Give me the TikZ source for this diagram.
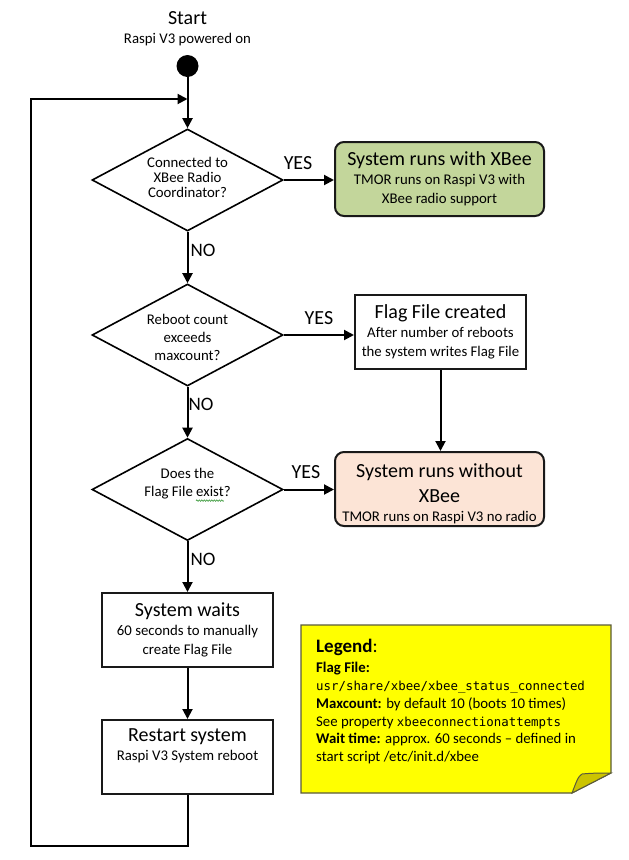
\documentclass[tikz,border=0pt]{standalone}
\usepackage{fontspec}
\setmainfont{Carlito}
\setmonofont{DejaVu Sans Mono}
\usetikzlibrary{arrows.meta,shapes.geometric,decorations.pathmorphing}
\definecolor{boxgreen}{HTML}{C3D69B}
\definecolor{boxpeach}{HTML}{FCE4D6}
\definecolor{notey}{HTML}{FFFF00}
\definecolor{notefold}{HTML}{CCC400}
\definecolor{noteedge}{HTML}{5A5A3C}
\definecolor{wavygreen}{HTML}{3C9A3C}
\newcommand\ttlfont{\fontsize{20}{20}\selectfont}
\newcommand\monofnt{\fontsize{12.4}{14}\selectfont\ttfamily}
\begin{document}
\begin{tikzpicture}[x=1pt,y=-1pt,
  conn/.style={line width=2pt, -{Triangle[length=10pt,width=10pt]}},
  plainline/.style={line width=2pt},
  decision/.style={diamond, draw=black, line width=1.6pt, minimum width=191pt, minimum height=102pt, inner sep=0pt},
  dtext/.style={align=center, inner sep=0pt},
  procbox/.style={rectangle, draw=black!90, line width=2pt, minimum width=171pt, minimum height=74pt, inner sep=0pt, align=center, font=\fontsize{14.8}{19}\selectfont},
  statebox/.style={procbox, rounded corners=9pt, minimum width=209pt},
  boxtext/.style={align=center, inner sep=0pt, font=\fontsize{14.8}{19}\selectfont},
  answer/.style={inner sep=0pt, font=\fontsize{20}{20}\selectfont},
  negans/.style={inner sep=0pt, font=\fontsize{19}{19}\selectfont},
  legline/.style={anchor=base west, inner sep=0pt, font=\fontsize{14.8}{17}\selectfont},
]
\useasboundingbox (0,0) rectangle (629,860);

% start
\node[font=\ttlfont, anchor=base, inner sep=0pt] (starttxt) at (187.5,24) {Start};
\node[font=\fontsize{14.8}{18}\selectfont, anchor=base, inner sep=0pt] (startsub) at (187.5,43) {Raspi V3 powered on};
\node[circle, fill=black, minimum size=22pt, inner sep=0pt] (init) at (187.5,66) {};
\coordinate (jn) at (187.5,99);

% decisions
\node[decision] (d1) at (187.5,180) {};
\node[dtext, font=\fontsize{14.8}{14.7}\selectfont] (d1t) at (187.5,177.5) {Connected to\\XBee Radio\\Coordinator?};
\node[decision] (d2) at (187.5,335) {};
\node[dtext, font=\fontsize{14.8}{18}\selectfont] (d2t) at (187.5,337) {Reboot count\\exceeds\\maxcount?};
\node[decision] (d3) at (187.5,489.5) {};
\node[dtext, font=\fontsize{14.8}{18}\selectfont] (d3t) at (187.5,484) {Does the\\Flag File exist?};

% boxes
\node[statebox, fill=boxgreen] (ok) at (439.5,179) {{\ttlfont System runs with XBee}\\TMOR runs on Raspi V3 with\\XBee radio support};
\node[procbox] (flag) at (440.5,332) {{\ttlfont Flag File created}\\After number of reboots\\the system writes Flag File};
\node[statebox, fill=boxpeach] (noradio) at (439.5,489) {};
\node[boxtext] (noradiot) at (439.5,493.5) {{\ttlfont System runs without}\\[6pt]{\ttlfont XBee}\\TMOR runs on Raspi V3 no radio};
\node[procbox] (wait) at (187.5,630) {{\ttlfont System waits}\\60 seconds to manually\\create Flag File};
\node[procbox] (restart) at (187.5,757) {{\ttlfont Restart system}\\Raspi V3 System reboot\\\strut};

% answers
\node[answer] (yes1) at (298,163.5) {YES};
\node[answer] (yes2) at (319,318.5) {YES};
\node[answer] (yes3) at (306,472.5) {YES};
\node[negans] (no1) at (203,250) {NO};
\node[negans] (no2) at (201,404.5) {NO};
\node[negans] (no3) at (203,559.5) {NO};

% connectors
\draw[plainline] (init) -- (jn);
\draw[conn] (jn) -- (d1.north);
\draw[conn] (d1.east) -- (d1.east -| ok.west);
\draw[conn] (d1.south) -- (d2.north);
\draw[conn] (d2.east) -- (d2.east -| flag.west);
\draw[conn] (flag.south) -- (flag.south |- noradio.north);
\draw[conn] (d2.south) -- (d3.north);
\draw[conn] (d3.east) -- (d3.east -| noradio.west);
\draw[conn] (d3.south) -- (wait.north);
\draw[conn] (wait.south) -- (restart.north);
\coordinate (lb) at (187.5,846);
\coordinate (ll) at (31,846);
\coordinate (lt) at (31,99);
\draw[conn] (restart.south) -- (lb) -- (ll) -- (lt) -- (jn);

% spell-check squiggle under "exist"
\draw[wavygreen, line width=0.6pt, decorate, decoration={snake, amplitude=0.8pt, segment length=2.5pt}]
  ([xshift=-34.8pt,yshift=-1pt]d3t.south east) -- ([xshift=-6.9pt,yshift=-1pt]d3t.south east);

% legend note
\draw[fill=notey, draw=noteedge, line width=1.2pt] (301,625) -- (611,625) -- (611,773) -- (572,793) -- (301,793) -- cycle;
\draw[fill=notefold, draw=noteedge, line width=1pt] (572,793) .. controls (576,783) and (578,776) .. (582,774) .. controls (592,773) and (602,773) .. (611,773) -- cycle;
\node[legline, font=\fontsize{19}{19}\selectfont] (lg0) at (316,652) {\textbf{Legend}:};
\node[legline] (lg1) at (316,672.5) {\textbf{Flag File:}};
\node[legline] (lg2) at (316,690.5) {\monofnt usr/share/xbee/xbee\_status\_connected};
\node[legline] (lg3) at (316,708) {\textbf{Maxcount:} by default 10 (boots 10 times)};
\node[legline] (lg4) at (316,726) {See property {\monofnt xbeeconnectionattempts}};
\node[legline] (lg5) at (316,743.5) {\textbf{Wait time:} approx. 60 seconds – defined in};
\node[legline] (lg6) at (316,761.5) {start script /etc/init.d/xbee};
\end{tikzpicture}
\end{document}
